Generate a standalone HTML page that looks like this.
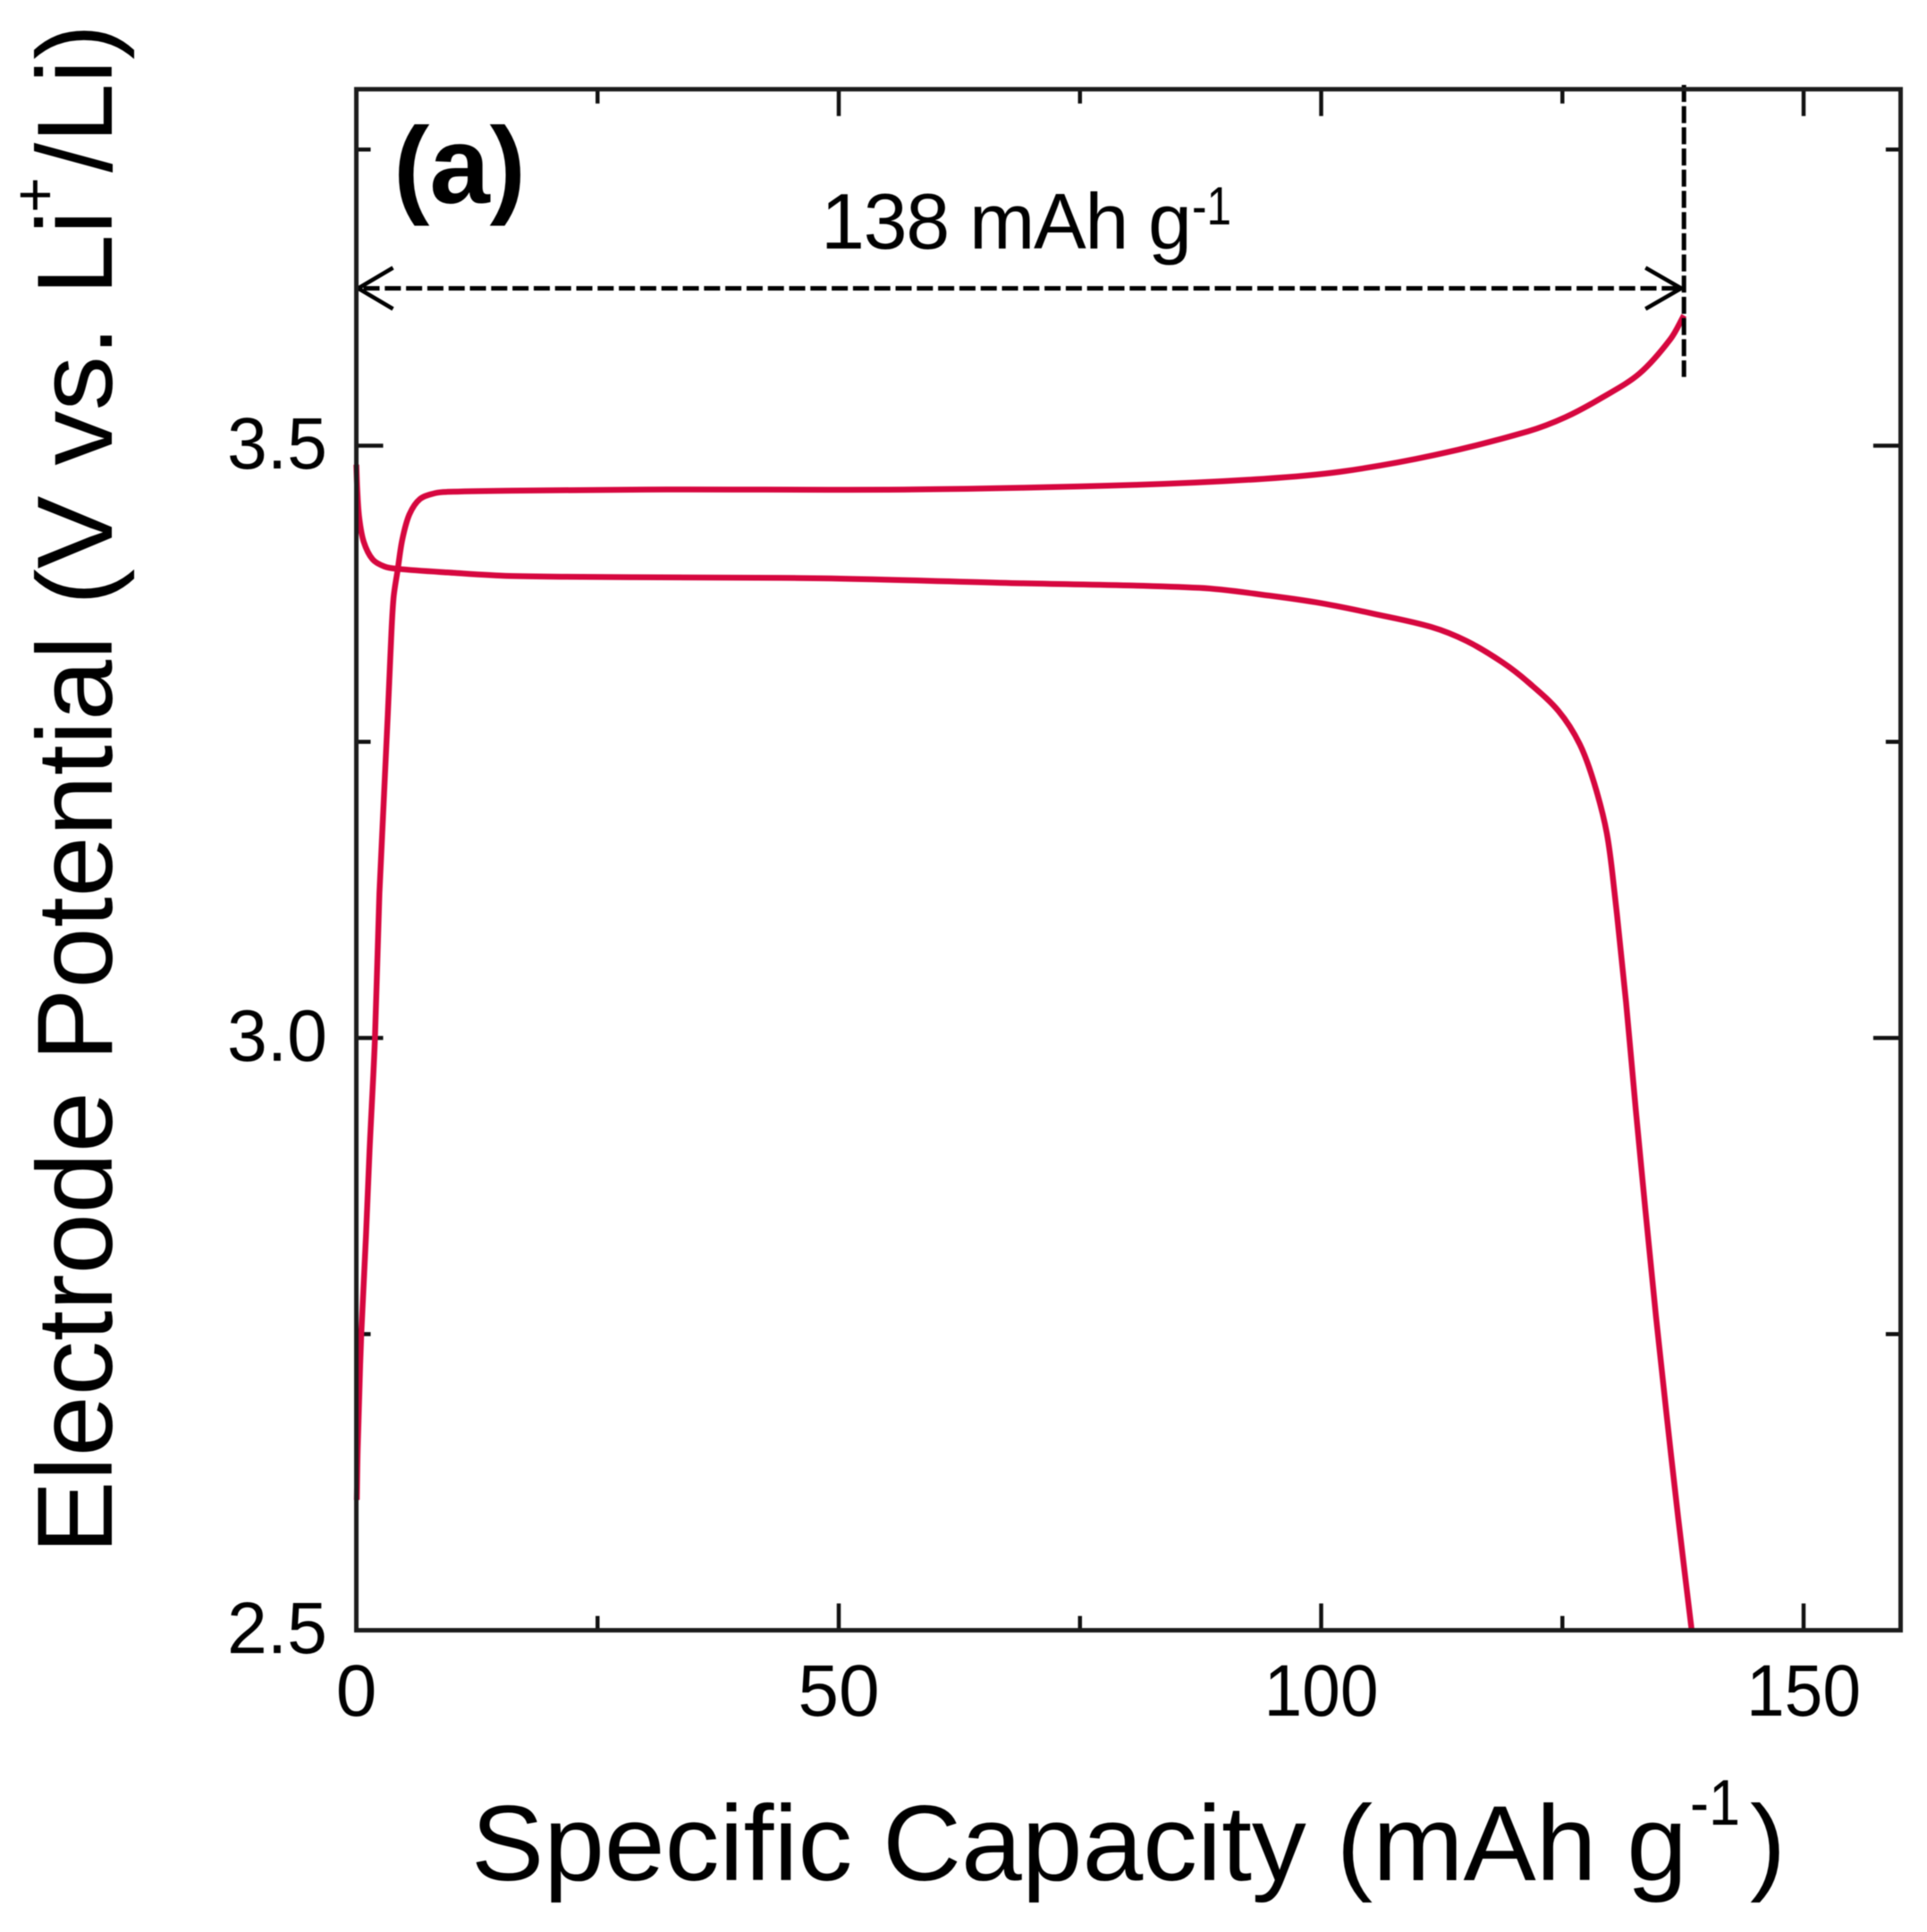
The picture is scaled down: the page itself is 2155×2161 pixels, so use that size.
<!DOCTYPE html>
<html lang="en">
<head>
<meta charset="utf-8">
<title>Electrode potential versus specific capacity</title>
<style>
  html, body { margin: 0; padding: 0; background: #ffffff; }
  svg { display: block; font-family: "Liberation Sans", sans-serif; filter: blur(0.6px); }
</style>
</head>
<body>
<svg id="chart" xmlns="http://www.w3.org/2000/svg" width="2155" height="2161" viewBox="0 0 2155 2161">
  <rect x="0" y="0" width="2155" height="2161" fill="#ffffff"/>
  <g id="ticks"></g>
  <g id="curves"></g>
  <g id="annotation"></g>
  <rect x="398.5" y="99.8" width="1727" height="1723.7" fill="none" stroke="#1c1c1c" stroke-width="5"/>
  <g id="tick-labels" font-size="82" fill="#000"></g>

  <text x="440" y="227" font-size="122" font-weight="bold" textLength="148" lengthAdjust="spacingAndGlyphs" fill="#000">(a)</text>

  <text x="918" y="278" font-size="88" textLength="415" lengthAdjust="spacing" fill="#000">138 mAh g</text>
  <text x="1333" y="251" font-size="60" textLength="44" lengthAdjust="spacingAndGlyphs" fill="#000">-1</text>

  <text x="527" y="2103" font-size="120" textLength="1360" lengthAdjust="spacingAndGlyphs" fill="#000">Specific Capacity (mAh g</text>
  <text x="1890" y="2041" font-size="72" textLength="56" lengthAdjust="spacingAndGlyphs" fill="#000">-1</text>
  <text x="1957" y="2103" font-size="120" textLength="40" lengthAdjust="spacingAndGlyphs" fill="#000">)</text>

  <text transform="translate(125 1738) rotate(-90)" font-size="120" textLength="1503" lengthAdjust="spacingAndGlyphs" fill="#000">Electrode Potential (V vs. Li</text>
  <text transform="translate(62 238) rotate(-90)" font-size="68" fill="#000">+</text>
  <text transform="translate(125 193) rotate(-90)" font-size="120" textLength="166" lengthAdjust="spacingAndGlyphs" fill="#000">/Li)</text>
</svg>
<script>
// Chart values
const xMajorTicks = [0, 50, 100, 150];
const xMinorTicks = [25, 75, 125];
const yMajorTicks = [2.5, 3.0, 3.5];
const yMinorTicks = [2.75, 3.25, 3.75];
const xTickLabels = ["0", "50", "100", "150"];
const yTickLabels = ["2.5", "3.0", "3.5"];

const dischargeCapacity = [0, 0.1, 0.3, 0.76, 1.69, 2.92, 4.3, 9.4, 15.9, 28.9, 48.4, 67.9, 87.4, 95, 100, 105.5, 111.4, 115.1, 118.8, 121.5, 124.6, 126.8, 128.3, 129.6, 130.4, 131.6, 132.6, 133.6, 134.7, 135.8, 137, 138.4];
const dischargeVoltage  = [3.484, 3.462, 3.439, 3.419, 3.404, 3.398, 3.396, 3.393, 3.390, 3.389, 3.388, 3.384, 3.380, 3.373, 3.367, 3.358, 3.347, 3.335, 3.317, 3.300, 3.276, 3.248, 3.215, 3.173, 3.123, 3.03, 2.94, 2.855, 2.765, 2.682, 2.595, 2.5];

const chargeCapacity = [0.05, 0.14, 0.51, 1.0, 1.37, 1.93, 2.39, 3.26, 3.54, 3.85, 4.3, 4.77, 5.5, 6.6, 8.2, 9.4, 15.9, 32.2, 57.5, 81, 94, 102, 111.7, 121.4, 125.3, 129.2, 133, 136.2, 137.6];
const chargeVoltage  = [2.61, 2.653, 2.75, 2.833, 2.905, 3.0, 3.122, 3.273, 3.325, 3.371, 3.396, 3.421, 3.442, 3.455, 3.46, 3.461, 3.462, 3.463, 3.463, 3.467, 3.472, 3.478, 3.492, 3.512, 3.524, 3.541, 3.561, 3.59, 3.61];

const annotationCapacity = [0, 137.6];
const annotationVoltage = [3.133];
const annotationLineVoltage = [3.8, 3.558];

// Axis functions
const xAxis = { origin: 398.5, perUnit: 10.79 };
const yAxis = { origin: 498.5, reference: 3.5, perUnit: 1325 };
function xScale(v) { return xAxis.origin + v * xAxis.perUnit; }
function yScale(v) { return yAxis.origin + (yAxis.reference - v) * yAxis.perUnit; }

const SVG_NS = 'http://www.w3.org/2000/svg';
const plotBottom = yScale(2.5);
const plotTop = 99.8;
const plotLeft = xScale(0);
const plotRight = xScale(160);

function line(parent, x1, y1, x2, y2, width, dash) {
  const el = document.createElementNS(SVG_NS, 'line');
  el.setAttribute('x1', x1);
  el.setAttribute('y1', y1);
  el.setAttribute('x2', x2);
  el.setAttribute('y2', y2);
  el.setAttribute('stroke', '#111');
  el.setAttribute('stroke-width', width);
  if (dash) el.setAttribute('stroke-dasharray', dash);
  parent.appendChild(el);
  return el;
}

// Ticks
const tickGroup = document.getElementById('ticks');
const MAJOR = 30, MINOR = 16, TICK_W = 4.5;
xMajorTicks.forEach(function (v) {
  const a = line(tickGroup, xScale(v), plotBottom, xScale(v), plotBottom - MAJOR, TICK_W);
  
  
  const b = line(tickGroup, xScale(v), plotTop, xScale(v), plotTop + MAJOR, TICK_W);
  
  
});
xMinorTicks.forEach(function (v) {
  const a = line(tickGroup, xScale(v), plotBottom, xScale(v), plotBottom - MINOR, TICK_W);
  
  
  const b = line(tickGroup, xScale(v), plotTop, xScale(v), plotTop + MINOR, TICK_W);
  
  
});
yMajorTicks.forEach(function (v) {
  const a = line(tickGroup, plotLeft, yScale(v), plotLeft + MAJOR, yScale(v), TICK_W);
  
  
  const b = line(tickGroup, plotRight, yScale(v), plotRight - MAJOR, yScale(v), TICK_W);
  
  
});
yMinorTicks.forEach(function (v) {
  const a = line(tickGroup, plotLeft, yScale(v), plotLeft + MINOR, yScale(v), TICK_W);
  
  
  const b = line(tickGroup, plotRight, yScale(v), plotRight - MINOR, yScale(v), TICK_W);
  
  
});

// Tick labels
const labelGroup = document.getElementById('tick-labels');
xMajorTicks.forEach(function (v, i) {
  const t = document.createElementNS(SVG_NS, 'text');
  const label = xTickLabels[i];
  t.setAttribute('x', xScale(v));
  t.setAttribute('y', 1919);
  t.setAttribute('text-anchor', 'middle');
  if (label.length === 3) {
    t.setAttribute('textLength', 128);
    t.setAttribute('lengthAdjust', 'spacingAndGlyphs');
  }
  
  
  t.textContent = label;
  labelGroup.appendChild(t);
});
yMajorTicks.forEach(function (v, i) {
  const t = document.createElementNS(SVG_NS, 'text');
  t.setAttribute('x', 254);
  t.setAttribute('y', yScale(v) + 25.5);
  t.setAttribute('textLength', 112);
  t.setAttribute('lengthAdjust', 'spacingAndGlyphs');
  
  
  t.textContent = yTickLabels[i];
  labelGroup.appendChild(t);
});

// Curves: chord-length spline through the read points
function smoothPath(xs, ys) {
  const p = xs.map(function (x, i) { return [xScale(x), yScale(ys[i])]; });
  const n = p.length;
  const t = [0];
  for (let i = 1; i < n; i++) {
    t.push(t[i - 1] + Math.hypot(p[i][0] - p[i - 1][0], p[i][1] - p[i - 1][1]));
  }
  const m = p.map(function (q, i) {
    const a = Math.max(i - 1, 0), b = Math.min(i + 1, n - 1);
    return [(p[b][0] - p[a][0]) / (t[b] - t[a]), (p[b][1] - p[a][1]) / (t[b] - t[a])];
  });
  let d = 'M' + p[0][0].toFixed(2) + ' ' + p[0][1].toFixed(2);
  for (let i = 0; i < n - 1; i++) {
    const h = (t[i + 1] - t[i]) / 3;
    d += ' C' + (p[i][0] + m[i][0] * h).toFixed(2) + ' ' + (p[i][1] + m[i][1] * h).toFixed(2) +
         ' ' + (p[i + 1][0] - m[i + 1][0] * h).toFixed(2) + ' ' + (p[i + 1][1] - m[i + 1][1] * h).toFixed(2) +
         ' ' + p[i + 1][0].toFixed(2) + ' ' + p[i + 1][1].toFixed(2);
  }
  return d;
}
const curveGroup = document.getElementById('curves');

const dischargePath = document.createElementNS(SVG_NS, 'path');
dischargePath.setAttribute('d', smoothPath(dischargeCapacity, dischargeVoltage));
dischargePath.setAttribute('fill', 'none');
dischargePath.setAttribute('stroke', '#d6073f');
dischargePath.setAttribute('stroke-width', '6.5');


curveGroup.appendChild(dischargePath);

const chargePath = document.createElementNS(SVG_NS, 'path');
chargePath.setAttribute('d', smoothPath(chargeCapacity, chargeVoltage));
chargePath.setAttribute('fill', 'none');
chargePath.setAttribute('stroke', '#d6073f');
chargePath.setAttribute('stroke-width', '6.5');


curveGroup.appendChild(chargePath);

// Annotation: dashed capacity arrow and vertical guide
const annoGroup = document.getElementById('annotation');
const ax0 = xScale(annotationCapacity[0]);
const ax1 = xScale(annotationCapacity[1]);
const ay = 322.5;

const guide = line(annoGroup, ax1, yScale(annotationLineVoltage[0]) - 6, ax1, yScale(annotationLineVoltage[1]), 5, '19 4.7');
guide.setAttribute('stroke', '#000');



const arrowShaft = line(annoGroup, ax0 + 8, ay, ax1 - 6, ay, 5, '18 5.8');
arrowShaft.setAttribute('stroke', '#000');



const leftHead = document.createElementNS(SVG_NS, 'polyline');
leftHead.setAttribute('points', (ax0 + 41) + ',' + (ay - 23) + ' ' + (ax0 + 2) + ',' + ay + ' ' + (ax0 + 41) + ',' + (ay + 23));
leftHead.setAttribute('fill', 'none');
leftHead.setAttribute('stroke', '#000');
leftHead.setAttribute('stroke-width', '4.5');


annoGroup.appendChild(leftHead);

const rightHead = document.createElementNS(SVG_NS, 'polyline');
rightHead.setAttribute('points', (ax1 - 43) + ',' + (ay - 23) + ' ' + (ax1 - 3) + ',' + ay + ' ' + (ax1 - 43) + ',' + (ay + 23));
rightHead.setAttribute('fill', 'none');
rightHead.setAttribute('stroke', '#000');
rightHead.setAttribute('stroke-width', '4.5');


annoGroup.appendChild(rightHead);
</script>
</body>
</html>
